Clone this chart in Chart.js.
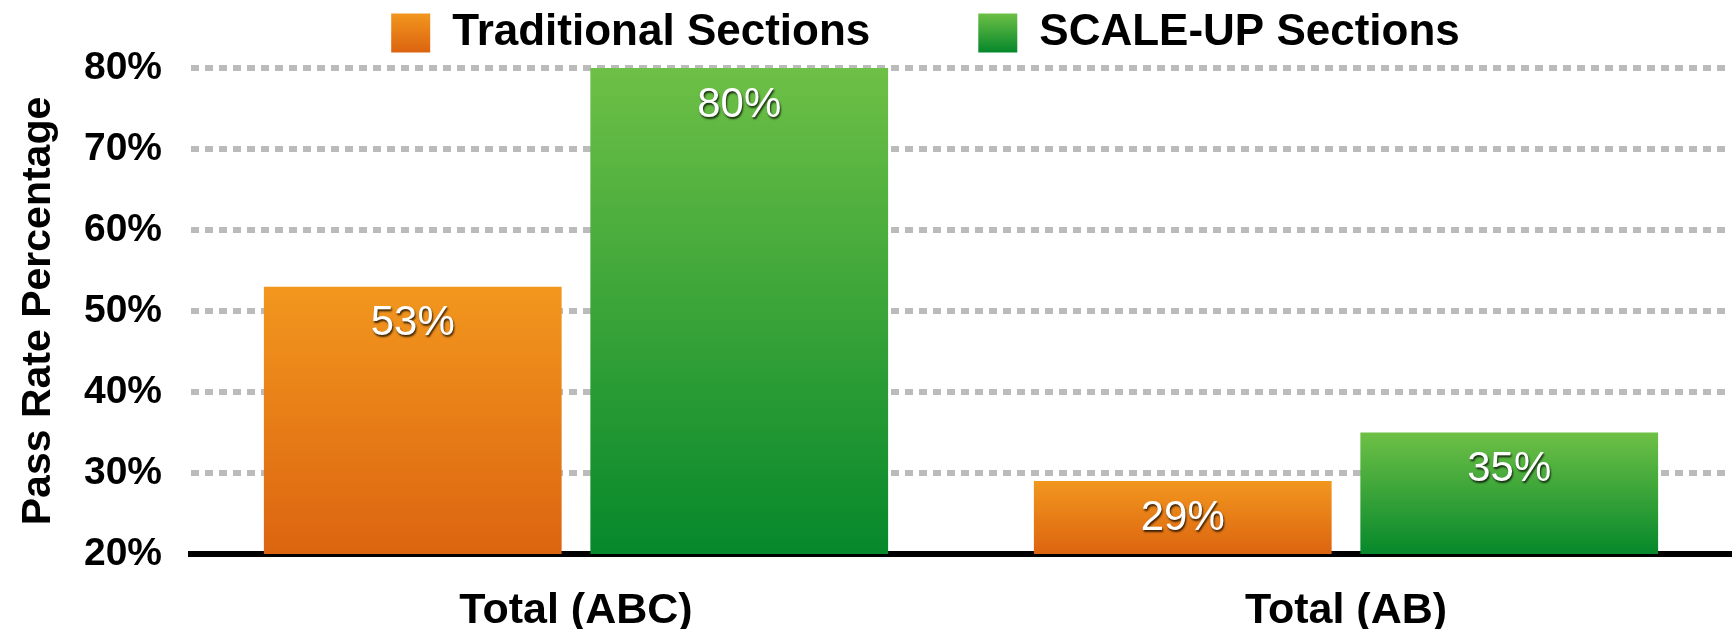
<!DOCTYPE html>
<html><head><meta charset="utf-8">
<script src="https://cdn.jsdelivr.net/npm/chart.js@4"></script>
<style>html,body{margin:0;padding:0;background:#fff}#wrap{width:1732px;height:629px}</style>
</head><body><div id="wrap"><canvas id="c"></canvas></div>
<script>
const categories = ["Total (ABC)", "Total (AB)"];
const traditional = [53, 29];
const scaleUp = [80, 35];
const seriesNames = ["Traditional Sections", "SCALE-UP Sections"];
const yTicks = [20, 30, 40, 50, 60, 70, 80];

const FONT = '"Liberation Sans", Arial, Helvetica, sans-serif';
const ORANGE = ['#F2971E', '#DC6410'];
const GREEN = ['#6EC046', '#06882B'];

function barGrad(cols) {
  return (ctx) => {
    const ch = ctx.chart;
    const ys = ch.scales && ch.scales.y;
    if (!ys || ctx.raw === undefined) return cols[1];
    const top = ys.getPixelForValue(ctx.raw);
    const bottom = ys.bottom;
    if (!isFinite(top) || !isFinite(bottom) || bottom <= top) return cols[1];
    const g = ch.ctx.createLinearGradient(0, top, 0, bottom);
    g.addColorStop(0, cols[0]); g.addColorStop(1, cols[1]);
    return g;
  };
}

const LEGEND_PAD = 108;
const legendShift = {
  id: 'legendShift',
  afterLayout(chart) {
    const lg = chart.legend;
    if (!lg) return;
    lg.top = 11 - LEGEND_PAD;
    lg.left += 60; lg.right += 60;
  }
};

const labelPlugin = {
  id: 'valueLabels',
  afterDatasetsDraw(chart) {
    const ctx = chart.ctx;
    ctx.save();
    ctx.font = '42px ' + FONT;
    ctx.textAlign = 'center'; ctx.textBaseline = 'middle';
    chart.data.datasets.forEach((ds, i) => {
      chart.getDatasetMeta(i).data.forEach((bar, j) => {
        ctx.shadowColor = 'rgba(0,0,0,0.75)'; ctx.shadowOffsetX = 1; ctx.shadowOffsetY = 2; ctx.shadowBlur = 2;
        ctx.fillStyle = '#fff';
        ctx.fillText(ds.data[j] + '%', bar.x, bar.y + 37);
      });
    });
    ctx.restore();
  }
};

function legendFill(ch, cols) {
  const g = ch.ctx.createLinearGradient(0, 13, 0, 52);
  g.addColorStop(0, cols[0]); g.addColorStop(1, cols[1]);
  return g;
}

new Chart(document.getElementById('c'), {
  type: 'bar',
  data: {
    labels: categories,
    datasets: [
      { label: seriesNames[0], data: traditional, backgroundColor: barGrad(ORANGE),
        categoryPercentage: 0.848, barPercentage: 0.912 },
      { label: seriesNames[1], data: scaleUp, backgroundColor: barGrad(GREEN),
        categoryPercentage: 0.848, barPercentage: 0.912 }
    ]
  },
  options: {
    responsive: true, maintainAspectRatio: false, animation: false,
    layout: { padding: { left: 0, right: 1, top: 0, bottom: 0 } },
    plugins: {
      tooltip: { enabled: false },
      legend: {
        position: 'top',
        maxHeight: 68,
        labels: {
          font: { family: FONT, size: 44, weight: 'bold' },
          color: '#000', boxWidth: 39, boxHeight: 39, padding: LEGEND_PAD,
          generateLabels: (chart) => [
            { text: seriesNames[0], fillStyle: legendFill(chart, ORANGE), strokeStyle: 'rgba(0,0,0,0)', lineWidth: 0, datasetIndex: 0 },
            { text: seriesNames[1], fillStyle: legendFill(chart, GREEN), strokeStyle: 'rgba(0,0,0,0)', lineWidth: 0, datasetIndex: 1 }
          ]
        }
      }
    },
    scales: {
      x: {
        afterFit: (s) => { s.height = 75; },
        grid: { display: false, drawTicks: false },
        border: { display: true, color: '#000', width: 6 },
        ticks: { color: '#000', padding: 36, font: { family: FONT, size: 43, weight: 'bold', lineHeight: 1.0 } }
      },
      y: {
        afterFit: (s) => { s.width = 191; },
        min: yTicks[0], max: yTicks[yTicks.length - 1],
        afterBuildTicks: (s) => { s.ticks = yTicks.map(v => ({ value: v })); },
        grid: { color: '#BBBBBB', lineWidth: 6, drawTicks: false },
        border: { display: false, dash: [8, 6] },
        ticks: { color: '#000', padding: 29, callback: v => v + '%',
          font: { family: FONT, size: 39, weight: 'bold' } },
        title: { display: true, text: 'Pass Rate Percentage', color: '#000', padding: { top: 14, bottom: 0 },
          font: { family: FONT, size: 41, weight: 'bold' } }
      }
    }
  },
  plugins: [legendShift, labelPlugin]
});
</script></body></html>
